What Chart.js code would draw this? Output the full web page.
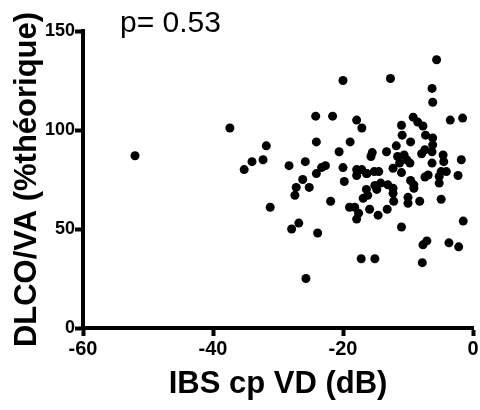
<!DOCTYPE html>
<html>
<head>
<meta charset="utf-8">
<script src="https://cdn.jsdelivr.net/npm/chart.js@4/dist/chart.umd.min.js"></script>
<style>
body{margin:0;background:#fff}
</style>
</head>
<body>
<canvas id="chart" width="480" height="410"></canvas>
<script>
'use strict'
// valeurs
const ibsVD = [
  -52.0, -37.4, -35.2, -34.0, -32.3, -31.8, -31.2, -28.3, -27.9, -27.4,
  -27.2, -26.8, -26.2, -25.8, -25.7, -25.2, -24.2, -24.1, -24.1, -23.9,
  -23.3, -22.7, -21.9, -21.6, -20.6, -20.0, -20.0, -19.8, -18.9, -19.0,
  -18.2, -17.9, -17.6, -17.9, -17.1, -17.2, -15.1, -17.9, -17.1, -16.4,
  -17.9, -16.3, -15.2, -16.4, -15.1, -14.8, -16.2, -16.9, -15.9, -14.6,
  -15.5, -15.7, -12.7, -13.2, -12.2, -10.0, -10.0, -8.2, -4.9, -1.5,
  -11.0, -7.7, -7.1, -3.7, -2.2, -7.8, -5.6, -6.3, -6.2, -9.2,
  -8.5, -7.7, -3.5, -1.6, -11.0, -10.9, -7.3, -9.6, -6.2, -11.8,
  -13.3, -6.2, -7.4, -7.9, -6.3, -11.6, -10.6, -10.2, -9.7, -11.3,
  -4.6, -4.5, -1.8, -6.3, -12.3, -14.5, -11.0, -4.9, -4.1, -5.2,
  -5.2, -2.3, -7.4, -6.9, -9.6, -9.1, -9.1, -14.2, -13.1, -12.3,
  -12.3
];
const dlcoVA = [
  87, 101, 80, 84, 85, 92, 61, 82, 50, 67,
  71, 53, 75, 84, 25, 71, 107, 94, 78, 48,
  81, 82, 64, 107, 89, 125, 81, 74, 94, 61,
  61, 105, 58, 55, 101, 35, 35, 80, 80, 78,
  77, 78, 79, 70, 72, 70, 67, 65.5, 60, 57,
  88.6, 86.6, 126, 60, 64, 66, 63, 64, 65, 54,
  51, 42, 44, 43, 41, 33, 135.5, 121, 114, 106.5,
  104, 102, 105, 106, 102.4, 97.4, 97.4, 94, 96, 92,
  89, 92.5, 90, 88, 89, 86.6, 87.4, 85, 83.3, 83.3,
  87.4, 84, 85, 83.3, 80.7, 79, 78.5, 79, 79, 76.5,
  73.2, 77, 76.2, 77.3, 74.5, 72.3, 70.6, 73.2, 72.3, 70.6,
  68
];
const xTicks = [-60, -40, -20, 0];
const yTicks = [0, 50, 100, 150];
const titreX = 'IBS cp VD (dB)';
const titreY = 'DLCO/VA (%théorique)';
const texteP = 'p= 0.53';

const police = '"Liberation Sans", Arial, sans-serif';

function points(){
    let res = [];
    for (let i = 0; i < ibsVD.length; i++){
        res.push({x: ibsVD[i], y: dlcoVA[i]});
    }
    return res;
}

const texteValeurP = {
    id: 'texteValeurP',
    afterDraw(chart){
        const ctx = chart.ctx;
        const zone = chart.chartArea;
        ctx.save();
        ctx.fillStyle = '#000';
        ctx.font = '30px ' + police;
        ctx.textBaseline = 'alphabetic';
        ctx.fillText(texteP, zone.left + 37, zone.top + 1);
        ctx.restore();
    }
};

const ctx = document.getElementById('chart').getContext('2d');
const myChart = new Chart(ctx, {
    type: 'scatter',
    data: {
        datasets: [{
            data: points(),
            backgroundColor: '#000',
            borderColor: '#000',
            pointRadius: 4.5,
            pointHoverRadius: 4.5,
            borderWidth: 0
        }]
    },
    options: {
        responsive: false,
        animation: false,
        layout: {padding: {top: 31, right: 7, left: 0, bottom: 0}},
        plugins: {legend: {display: false}, tooltip: {enabled: false}},
        scales: {
            x: {
                min: -60,
                max: 0,
                afterBuildTicks: s => { s.ticks = xTicks.map(v => ({value: v})); },
                afterFit: s => { s.height = 82; },
                grid: {drawOnChartArea: false, drawTicks: true, tickLength: 8, tickWidth: 4, tickColor: '#000'},
                border: {display: true, color: '#000', width: 4},
                ticks: {color: '#000', padding: 1, font: {family: police, size: 20, weight: 'bold'}, maxRotation: 0},
                title: {display: true, text: titreX, color: '#000', padding: {top: 0, bottom: 7},
                        font: {family: police, size: 31, weight: 'bold'}}
            },
            y: {
                min: 0,
                max: 150,
                afterBuildTicks: s => { s.ticks = yTicks.map(v => ({value: v})); },
                afterFit: s => { s.width = 83; },
                grid: {drawOnChartArea: false, drawTicks: true, tickLength: 8, tickWidth: 4, tickColor: '#000'},
                border: {display: true, color: '#000', width: 4},
                ticks: {color: '#000', padding: 0, font: {family: police, size: 18, weight: 'bold'}},
                title: {display: true, text: titreY, color: '#000', padding: {top: 9, bottom: 0},
                        font: {family: police, size: 31, weight: 'bold'}}
            }
        }
    },
    plugins: [texteValeurP]
});
</script>
</body>
</html>
